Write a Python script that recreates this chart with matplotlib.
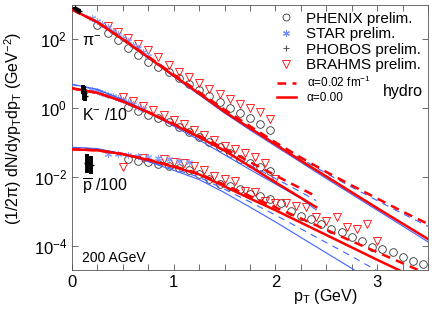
import numpy as np
import matplotlib
matplotlib.use('Agg')
import matplotlib.pyplot as plt
from matplotlib.lines import Line2D
from matplotlib.ticker import MultipleLocator, FixedLocator, LogFormatterSciNotation, NullLocator

plt.rcParams['font.family'] = ['Liberation Sans', 'DejaVu Sans']
plt.rcParams['mathtext.fontset'] = 'custom'
plt.rcParams['mathtext.rm'] = 'Liberation Sans'
plt.rcParams['mathtext.it'] = 'Liberation Sans:italic'
plt.rcParams['mathtext.default'] = 'regular'

RED = '#ff0000'
BLUE = '#3f62ff'

# hydro curves: log10 of (1/2pi) dN/dy pT dpT
hydro_pt = [0, 0.25, 0.5, 0.75, 1.0, 1.25, 1.5, 1.75, 2.0, 2.25, 2.5, 2.75, 3.0, 3.25, 3.5]
pi_red = [2.87, 2.5, 2.0, 1.48, 0.95, 0.43, -0.1, -0.58, -1.05, -1.52, -1.98, -2.44, -2.9, -3.35, -3.8]
pi_red_d = [2.87, 2.5, 2.01, 1.5, 0.98, 0.47, -0.04, -0.52, -0.99, -1.43, -1.85, -2.24, -2.62, -3.0, -3.36]
pi_blue = [2.88, 2.5, 1.99, 1.46, 0.92, 0.39, -0.14, -0.63, -1.1, -1.57, -2.04, -2.5, -2.96, -3.42, -3.88]
pi_blue_d = [2.88, 2.5, 2.0, 1.48, 0.95, 0.44, -0.07, -0.55, -1.02, -1.46, -1.89, -2.29, -2.68, -3.06, -3.43]

k_pt = [0, 0.25, 0.5, 0.75, 1.0, 1.25, 1.5, 1.75, 2.0, 2.25, 2.4]
k_red = [0.58, 0.45, 0.2, -0.12, -0.47, -0.84, -1.23, -1.69, -2.15, -2.6, -2.87]
k_red_d = [0.58, 0.45, 0.2, -0.11, -0.45, -0.8, -1.17, -1.56, -1.95, -2.33, -2.56]
k_blue = [0.70, 0.55, 0.25, -0.12, -0.52, -0.92, -1.35, -1.78, -2.2, -2.62, -2.95]
k_blue_d = [0.69, 0.54, 0.25, -0.1, -0.48, -0.86, -1.25, -1.65, -2.04, -2.43, -2.68]

p_red = [-1.19, -1.22, -1.33, -1.5, -1.7, -1.92, -2.27, -2.62, -2.96, -3.32, -3.68, -4.04, -4.4, -4.75, -5.1]
p_red_d = [-1.19, -1.22, -1.33, -1.49, -1.68, -1.9, -2.22, -2.55, -2.88, -3.2, -3.53, -3.86, -4.18, -4.5, -4.82]
p_blue = [-1.13, -1.17, -1.32, -1.55, -1.8, -2.07, -2.45, -2.87, -3.3, -3.75, -4.2, -4.65, -5.1, -5.55, -6.0]
p_blue_d = [-1.14, -1.18, -1.32, -1.53, -1.76, -2.0, -2.35, -2.72, -3.1, -3.5, -3.9, -4.3, -4.72, -5.12, -5.52]

# PHENIX prelim.
phenix_pi_pt = [0.25, 0.35, 0.45, 0.55, 0.65, 0.75, 0.85, 0.95, 1.05, 1.15, 1.25, 1.35, 1.45, 1.55, 1.65, 1.75, 1.85, 1.95]
phenix_pi = [2.42, 2.2, 1.98, 1.75, 1.55, 1.35, 1.2, 1.05, 0.88, 0.7, 0.53, 0.35, 0.18, 0.02, -0.13, -0.28, -0.45, -0.62]
phenix_k_pt = [0.55, 0.65, 0.75, 0.85, 0.95, 1.05, 1.15, 1.25, 1.35, 1.45, 1.55, 1.65, 1.75, 1.85, 1.95]
phenix_k = [0.05, -0.08, -0.18, -0.28, -0.41, -0.55, -0.7, -0.83, -0.98, -1.13, -1.3, -1.46, -1.6, -1.71, -1.83]
phenix_p_pt = [0.55, 0.65, 0.75, 0.85, 0.95, 1.05, 1.15, 1.25, 1.35, 1.45, 1.55, 1.65, 1.75, 1.85, 1.95,
               2.05, 2.15, 2.25, 2.35, 2.45, 2.55, 2.65, 2.75, 2.85, 2.95, 3.05, 3.15, 3.25, 3.35, 3.45]
phenix_p = [-1.48, -1.54, -1.57, -1.62, -1.68, -1.72, -1.8, -1.9, -2.06, -2.2, -2.26, -2.35, -2.49, -2.55, -2.64,
            -2.74, -2.99, -3.13, -3.22, -3.36, -3.5, -3.6, -3.74, -3.86, -4.03, -4.09, -4.17, -4.32, -4.43, -4.52]

# STAR prelim.
star_pi_pt = [0.2, 0.25, 0.3, 0.35, 0.4, 0.45, 0.5, 0.55, 0.6, 0.65, 0.7, 0.75]
star_pi = [2.63, 2.55, 2.45, 2.35, 2.25, 2.15, 2.05, 1.95, 1.84, 1.74, 1.63, 1.53]
star_k_pt = [0.2, 0.25, 0.3, 0.35, 0.4, 0.45, 0.5, 0.55, 0.6, 0.65, 0.7]
star_k = [0.52, 0.49, 0.45, 0.4, 0.35, 0.29, 0.24, 0.18, 0.12, 0.05, -0.01]
star_p_pt = [0.35, 0.45, 0.55, 0.65, 0.75, 0.85, 0.95, 1.05, 1.15]
star_p = [-1.33, -1.33, -1.37, -1.39, -1.4, -1.43, -1.48, -1.53, -1.57]

# PHOBOS prelim. (value, error in decades)
phobos_pi_pt = [0.03, 0.05, 0.07]
phobos_pi = [2.9, 2.86, 2.82]
phobos_pi_err = [0.05, 0.05, 0.05]
phobos_k_pt = [0.11, 0.12, 0.13]
phobos_k = [0.55, 0.45, 0.35]
phobos_k_err = [0.12, 0.2, 0.15]
phobos_p_pt = [0.145, 0.185]
phobos_p = [-1.6, -1.65]
phobos_p_err = [0.27, 0.27]

# BRAHMS prelim.
brahms_pi_pt = [0.35, 0.45, 0.55, 0.65, 0.75, 0.85, 0.95, 1.05, 1.15, 1.25, 1.35, 1.45, 1.55, 1.65, 1.75, 1.85, 1.95]
brahms_pi = [2.4, 2.22, 2.04, 1.86, 1.68, 1.5, 1.27, 1.06, 0.9, 0.73, 0.56, 0.41, 0.27, 0.12, 0.0, -0.12, -0.3]
brahms_k_pt = [0.5, 0.6, 0.7, 0.8, 0.9, 1.0, 1.1, 1.2, 1.3, 1.4, 1.5, 1.6, 1.7, 1.8, 1.9, 2.0]
brahms_k = [0.32, 0.2, 0.08, -0.06, -0.2, -0.33, -0.46, -0.62, -0.78, -0.93, -1.08, -1.18, -1.3, -1.4, -1.6, -2.05]
brahms_p_pt = [0.5, 0.7, 0.9, 1.0, 1.1, 1.2, 1.3, 1.4, 1.5, 1.6, 1.7, 1.8, 1.9, 2.0, 2.1, 2.2, 2.3, 2.4,
               2.5, 2.6, 2.7, 2.8, 2.9, 3.0]
brahms_p = [-1.7, -1.45, -1.48, -1.55, -1.6, -1.68, -1.8, -1.97, -2.06, -2.12, -2.4, -2.43, -2.7, -2.75, -2.75,
            -2.84, -2.87, -3.16, -3.28, -3.16, -3.45, -3.5, -3.36, -3.86]


def lin(v):
    return 10 ** np.asarray(v, dtype=float)


fig = plt.figure(figsize=(4.36, 3.13), dpi=100)
ax = fig.add_axes([0.165, 0.137, 0.817, 0.847])

# data
for x, y in [(phenix_pi_pt, phenix_pi), (phenix_k_pt, phenix_k), (phenix_p_pt, phenix_p)]:
    ax.plot(x, lin(y), 'o', ms=5.5, mfc='none', mec='#333333', mew=0.6, zorder=2)
for x, y in [(brahms_pi_pt, brahms_pi), (brahms_k_pt, brahms_k), (brahms_p_pt, brahms_p)]:
    ax.plot(x, lin(y), 'v', ms=6, mfc='none', mec=RED, mew=0.6, zorder=2)
for x, y in [(star_pi_pt, star_pi), (star_k_pt, star_k), (star_p_pt, star_p)]:
    ax.plot(x, lin(y), ls='none', marker=(6, 2, 0), ms=5, mec='#6f8bff', mew=0.8, alpha=0.8, zorder=2)
for x, y, e in [(phobos_pi_pt, phobos_pi, phobos_pi_err), (phobos_k_pt, phobos_k, phobos_k_err),
                (phobos_p_pt, phobos_p, phobos_p_err)]:
    y = np.asarray(y)
    e = np.asarray(e)
    yv = lin(y)
    yerr = [yv - lin(y - e), lin(y + e) - yv]
    ax.errorbar(x, yv, yerr=yerr, fmt='+', ms=5, color='black', ecolor='black', elinewidth=2.8,
                capsize=0, zorder=4)

# hydro lines
for x, r, rd, b, bd in [(hydro_pt, pi_red, pi_red_d, pi_blue, pi_blue_d),
                        (k_pt, k_red, k_red_d, k_blue, k_blue_d),
                        (hydro_pt, p_red, p_red_d, p_blue, p_blue_d)]:
    ax.plot(x, lin(b), color=BLUE, lw=0.8, zorder=3)
    ax.plot(x, lin(bd), color=BLUE, lw=0.8, ls=(0, (6, 5)), zorder=3)
    ax.plot(x, lin(r), color=RED, lw=1.8, zorder=3)
    ax.plot(x, lin(rd), color=RED, lw=1.8, ls=(0, (3.5, 2.5)), zorder=3)

ax.set_yscale('log')
ax.set_xlim(0, 3.5)
ax.set_ylim(2e-5, 1e3)
ax.xaxis.set_major_locator(MultipleLocator(1))
ax.xaxis.set_minor_locator(MultipleLocator(0.25))
ax.yaxis.set_major_locator(FixedLocator([1e-4, 1e-2, 1, 1e2]))
ax.yaxis.set_major_formatter(LogFormatterSciNotation())
ax.yaxis.set_minor_locator(NullLocator())
ax.tick_params(which='both', direction='in', top=True, right=True, length=4, width=0.6,
               labelsize=12, color='#555555')
for s in ax.spines.values():
    s.set_linewidth(0.6)
    s.set_color('#555555')

ax.set_xlabel('p$_T$ (GeV)', fontsize=11.5)
ax.xaxis.set_label_coords(0.71, -0.065)
ax.set_ylabel('(1/2π) dN/dyp$_T$dp$_T$ (GeV$^{-2}$)', fontsize=11.5)
ax.yaxis.set_label_coords(-0.135, 0.535)

ax.text(0.1, lin(1.8), 'π$^{-}$', fontsize=11.5, va='baseline')
ax.text(0.1, lin(-0.33), 'K$^{-}$ /10', fontsize=11.5, va='baseline')
ax.text(0.1, lin(-2.42), '$\\overline{p}$ /100', fontsize=11.5, va='baseline')
ax.text(0.028, 0.03, '200 AGeV', fontsize=10, transform=ax.transAxes, va='baseline')

h1 = [Line2D([], [], ls='none', marker='o', ms=5, mfc='none', mec='#333333', mew=0.6),
      Line2D([], [], ls='none', marker=(6, 2, 0), ms=5, mec='#6f8bff', mew=0.8),
      Line2D([], [], ls='none', marker='+', ms=5, color='#555555', mew=0.8),
      Line2D([], [], ls='none', marker='v', ms=5.5, mfc='none', mec=RED, mew=0.6)]
leg1 = ax.legend(h1, ['PHENIX prelim.', 'STAR prelim.', 'PHOBOS prelim.', 'BRAHMS prelim.'],
                 loc='upper left', bbox_to_anchor=(0.579, 0.975), frameon=False, fontsize=11,
                 handlelength=1.0, handletextpad=0.85, labelspacing=0.1, borderpad=0,
                 borderaxespad=0)
ax.add_artist(leg1)
h2 = [Line2D([], [], color=RED, lw=1.8, ls=(0, (3.5, 2.5))),
      Line2D([], [], color=RED, lw=1.8)]
ax.legend(h2, ['α=0.02 fm$^{-1}$', 'α=0.00'], loc='upper left', bbox_to_anchor=(0.576, 0.735),
          frameon=False, fontsize=8.5, handlelength=1.6, handletextpad=0.9, labelspacing=0.15,
          borderpad=0, borderaxespad=0)
ax.text(0.874, 0.672, 'hydro', fontsize=11.5, transform=ax.transAxes, va='center')

fig.savefig('out.png', dpi=100)
